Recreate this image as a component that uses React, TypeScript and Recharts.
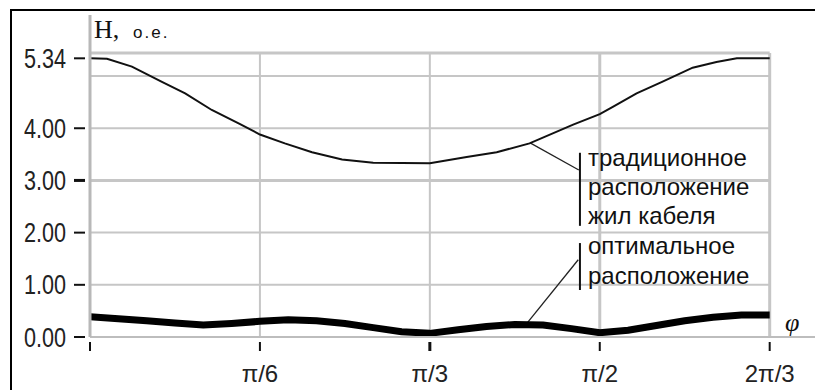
import React from "react";
import { LineChart, Line, XAxis, YAxis, ReferenceLine } from "recharts";

// φ in degrees (0 .. 2π/3 = 120°), H in relative units
const tradPhi = [0, 3, 7.4, 12.7, 16.8, 21.5, 26.5, 30, 34.4, 39.2, 44.5, 50, 60, 66.5, 71.8, 77.6, 85.3, 90, 92.3, 96.5, 101, 106.4, 110.6, 114.2, 120];
const tradH = [5.34, 5.33, 5.18, 4.89, 4.67, 4.35, 4.08, 3.88, 3.71, 3.54, 3.4, 3.34, 3.33, 3.45, 3.54, 3.71, 4.07, 4.27, 4.41, 4.67, 4.89, 5.16, 5.27, 5.34, 5.34];

const optPhi = [0, 5, 10, 15, 20, 25, 30, 35, 40, 45, 50, 55, 60, 65, 70, 75, 80, 85, 90, 95, 100, 105, 110, 115, 120];
const optH = [0.39, 0.35, 0.31, 0.27, 0.23, 0.26, 0.3, 0.33, 0.31, 0.26, 0.18, 0.1, 0.07, 0.14, 0.2, 0.24, 0.23, 0.16, 0.08, 0.13, 0.22, 0.31, 0.38, 0.42, 0.42];

const xTicks = [0, 30, 60, 90, 120];
const xTickLabels = ["", "π/6", "π/3", "π/2", "2π/3"];
const yTicks = [0, 1, 2, 3, 4, 5.34];
const yGrid = [1, 2, 3, 4, 5];
const yTop = 5.44;

const tradData = tradPhi.map((phi, i) => ({ phi, h: tradH[i] }));
const optData = optPhi.map((phi, i) => ({ phi, h: optH[i] }));

const GRID = "#c6c6c6";
const SANS = "'Liberation Sans', Arial, sans-serif";
const SERIF = "'Liberation Serif', 'Times New Roman', serif";

const YTick = (props: any) => {
  const { x, y, payload } = props;
  const v = payload.value as number;
  return (
    <g>
      <line x1={x - 16} x2={x - 5} y1={y} y2={y} stroke="#111" strokeWidth={v === 3 ? 3 : 2} />
      <text
        transform={`translate(${x - 24},${y + 9.5}) scale(0.8,1)`}
        textAnchor="end"
        fontFamily={SANS}
        fontSize={27}
        fill="#222"
      >
        {v.toFixed(2)}
      </text>
    </g>
  );
};

const XTick = (props: any) => {
  const { x, y, payload } = props;
  const idx = xTicks.indexOf(payload.value);
  return (
    <g>
      <line x1={x} x2={x} y1={y + 5} y2={y + 14} stroke="#111" strokeWidth={payload.value === 60 ? 3 : 2} />
      <text x={x} y={y + 45} textAnchor="middle" fontFamily={SANS} fontSize={24} fill="#222">
        {xTickLabels[idx]}
      </text>
    </g>
  );
};

export default function App() {
  return (
    <div style={{ position: "relative", width: 815, height: 382, overflow: "hidden", background: "#fff" }}>
      <div
        style={{
          position: "absolute",
          left: 2,
          top: 1,
          width: 1200,
          height: 1200,
          borderLeft: "2px solid #000",
          borderTop: "2px solid #000",
        }}
      />
      <div style={{ position: "absolute", left: 0, top: 0 }}>
        <LineChart width={815} height={382} margin={{ top: 7, right: 8, bottom: 0, left: 0 }}>
          <XAxis
            type="number"
            dataKey="phi"
            domain={[0, 128]}
            ticks={xTicks}
            allowDataOverflow
            height={53}
            tickSize={0}
            tickMargin={0}
            tickLine={false}
            axisLine={{ stroke: "#bdbdbd", strokeWidth: 2 }}
            tick={<XTick />}
            interval={0}
          />
          <YAxis
            type="number"
            domain={[0, 6.17]}
            ticks={yTicks}
            allowDataOverflow
            width={82}
            tickSize={0}
            tickMargin={0}
            tickLine={false}
            axisLine={{ stroke: "#b8b8b8", strokeWidth: 3 }}
            tick={<YTick />}
            interval={0}
          />
          {yGrid.map((v) => (
            <ReferenceLine
              key={"h" + v}
              segment={[{ x: 0, y: v }, { x: 120, y: v }]}
              stroke={GRID}
              strokeWidth={v === 3 ? 3 : 2}
            />
          ))}
          <ReferenceLine segment={[{ x: 0, y: yTop }, { x: 120, y: yTop }]} stroke={GRID} strokeWidth={3} />
          {xTicks.slice(1).map((v) => (
            <ReferenceLine
              key={"v" + v}
              segment={[{ x: v, y: 0 }, { x: v, y: yTop }]}
              stroke={GRID}
              strokeWidth={v >= 90 ? 3 : 2}
            />
          ))}
          {/* legend brackets and leader lines */}
          <ReferenceLine segment={[{ x: 86.5, y: 3.53 }, { x: 86.5, y: 2.13 }]} stroke="#111" strokeWidth={2} />
          <ReferenceLine segment={[{ x: 86.5, y: 1.8 }, { x: 86.5, y: 0.9 }]} stroke="#111" strokeWidth={2} />
          <ReferenceLine segment={[{ x: 77.7, y: 3.72 }, { x: 86.3, y: 3.2 }]} stroke="#222" strokeWidth={1.3} />
          <ReferenceLine segment={[{ x: 77.2, y: 0.27 }, { x: 86.2, y: 1.48 }]} stroke="#222" strokeWidth={1.3} />
          <Line
            data={tradData}
            dataKey="h"
            type="linear"
            stroke="#111"
            strokeWidth={2}
            dot={false}
            isAnimationActive={false}
          />
          <Line
            data={optData}
            dataKey="h"
            type="linear"
            stroke="#000"
            strokeWidth={7}
            dot={false}
            isAnimationActive={false}
          />
        </LineChart>
      </div>
      <svg width={815} height={382} style={{ position: "absolute", left: 0, top: 0, pointerEvents: "none" }}>
        <text x={86} y={30} fontFamily={SERIF} fontSize={26} fill="#111">
          H,
        </text>
        <text x={125} y={30} fontFamily={SANS} fontSize={17} letterSpacing={2} fill="#111">
          о.е.
        </text>
        <text x={777} y={323} fontFamily={SERIF} fontStyle="italic" fontSize={26} fill="#111">
          φ
        </text>
        <g fontFamily={SANS} fontSize={24} fill="#111">
          <text x={580} y={158}>традиционное</text>
          <text x={580} y={187}>расположение</text>
          <text x={580} y={216}>жил кабеля</text>
          <text x={580} y={246}>оптимальное</text>
          <text x={580} y={276}>расположение</text>
        </g>
      </svg>
    </div>
  );
}
